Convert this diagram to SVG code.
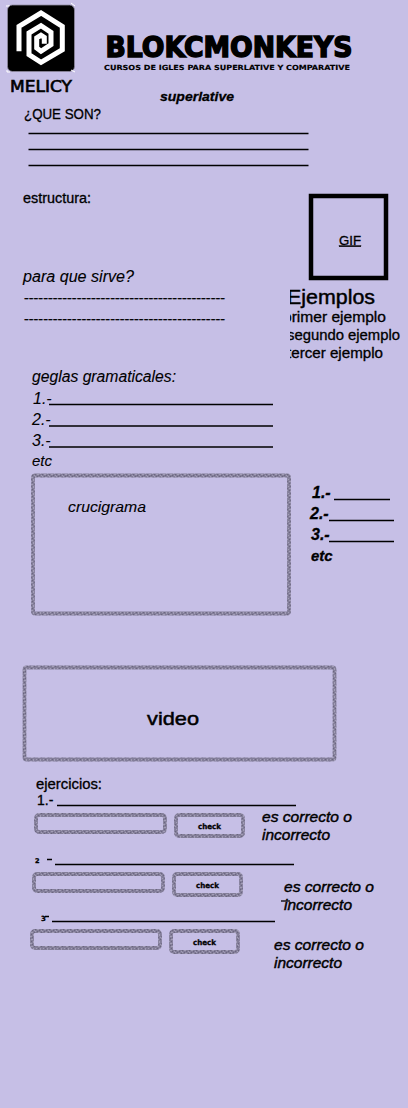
<svg xmlns="http://www.w3.org/2000/svg" width="408" height="1108" viewBox="0 0 408 1108">
<style>
text{font-family:"Liberation Sans",Arial,sans-serif;fill:#000;stroke:#000;stroke-width:.3}
.i{font-style:italic}
.b{font-weight:bold}
.w{font-family:"DejaVu Sans",sans-serif;font-weight:bold}
.l{stroke:#000;stroke-width:1.3;fill:none}
.g{fill:none;stroke:url(#n);stroke-width:3.8}
.f16{font-size:16px}.f15{font-size:15px}.f14{font-size:14px}
</style>
<defs>
<clipPath id="c"><rect x="290" y="280" width="118" height="90"/></clipPath>
<pattern id="n" width="7" height="7" patternUnits="userSpaceOnUse">
<rect width="7" height="7" fill="#837e99"/>
<path d="M0 0h1v1H0zM3 1h2v1H3zM1 3h1v1H1zM5 3h1v2H5zM2 5h2v1H2zM6 6h1v1H6z" fill="#a29db6"/>
<path d="M2 0h1v1H2zM6 1h1v1H6zM3 3h1v1H3zM0 5h1v1H0zM4 6h1v1H4z" fill="#6b6680"/>
</pattern>
</defs>
<rect width="408" height="1108" fill="#c6bfe6"/>
<g id="logo">
<rect x="7.500" y="5" width="67" height="66.500" rx="5" fill="#000" stroke="#8f8a9f" stroke-width=".8"/>
<path d="M19 51.300V26.300L41 13 62.300 26.300V49.700L41 62.300 29 54.700V33L41 25.700 51 32.300V44.700L41 51.300 36.700 48V38L41 35.300 44.300 37.300V43.700" fill="none" stroke="#fff" stroke-width="5"/>
<path d="M6 6h3v-1M71 3l4 3M7 70v2h3M71 70l4 2" stroke="#fff" fill="none"/>
<text x="10" y="92" font-size="15" style="font-family:'DejaVu Sans',sans-serif;stroke-width:.6" textLength="62" lengthAdjust="spacingAndGlyphs">MELICY</text>
</g>
<g id="title">
<text x="105.500" y="56.500" class="w" font-size="27.500" style="stroke-width:1.5" textLength="247" lengthAdjust="spacingAndGlyphs">BLOKCMONKEYS</text>
<text x="104" y="70" class="w" font-size="7" style="stroke-width:.15" textLength="246" lengthAdjust="spacingAndGlyphs">CURSOS DE IGLES PARA SUPERLATIVE Y COMPARATIVE</text>
<text x="160" y="101" class="i b" font-size="13.500" textLength="74" lengthAdjust="spacingAndGlyphs">superlative</text>
</g>
<g id="que-son">
<text x="24" y="119" class="f14" textLength="77" lengthAdjust="spacingAndGlyphs">¿QUE SON?</text>
<path class="l" d="M28.500 133.500H308.500M28.500 149.500H308.500M28.500 165.500H308.500"/>
</g>
<g id="estructura"><text x="23" y="203" class="f14" textLength="68" lengthAdjust="spacingAndGlyphs">estructura:</text></g>
<g id="para-que">
<text x="23" y="282" class="i f16" style="stroke-width:.1" textLength="111" lengthAdjust="spacingAndGlyphs">para que sirve?</text>
<text x="24" y="302" font-size="13" textLength="201" lengthAdjust="spacingAndGlyphs">------------------------------------------</text>
<text x="24" y="323" font-size="13" textLength="201" lengthAdjust="spacingAndGlyphs">------------------------------------------</text>
</g>
<g id="gif">
<rect x="311" y="196" width="75" height="82" fill="none" stroke="#000" stroke-width="4.500"/>
<text x="339" y="244.500" font-size="13" text-decoration="underline" textLength="22" lengthAdjust="spacingAndGlyphs">GIF</text>
</g>
<g id="ejemplos" clip-path="url(#c)">
<text x="287" y="304" font-size="20" style="stroke-width:.45" textLength="88" lengthAdjust="spacingAndGlyphs">Ejemplos</text>
<text x="283" y="322" class="f14" textLength="103" lengthAdjust="spacingAndGlyphs">primer ejemplo</text>
<text x="287" y="340" class="f14" textLength="113" lengthAdjust="spacingAndGlyphs">segundo ejemplo</text>
<text x="287" y="358" class="f14" textLength="96" lengthAdjust="spacingAndGlyphs">tercer ejemplo</text>
</g>
<g id="reglas">
<text x="32" y="382" class="i f16" style="stroke-width:.1" textLength="144" lengthAdjust="spacingAndGlyphs">geglas gramaticales:</text>
<text x="33" y="404" class="i f16" style="stroke-width:.1">1.-</text><text x="32" y="425" class="i f16" style="stroke-width:.1">2.-</text><text x="32" y="446" class="i f16" style="stroke-width:.1">3.-</text>
<text x="32" y="466" class="i f15" style="stroke-width:.1">etc</text>
<path class="l" d="M49 404.500H273M49 426H273M49 447H273"/>
</g>
<g id="crucigrama">
<rect x="33" y="475.500" width="256" height="138" rx="2" class="g"/>
<text x="68" y="512" class="i f15" style="stroke-width:.1" textLength="78" lengthAdjust="spacingAndGlyphs">crucigrama</text>
</g>
<g id="respuestas">
<text x="312" y="498" class="i b f16">1.-</text><text x="310" y="519" class="i b f16">2.-</text><text x="311" y="540" class="i b f16">3.-</text>
<text x="311" y="561" class="i b f15">etc</text>
<path class="l" d="M334 499.500H390M329 520.500H394M329 541.500H394"/>
</g>
<g id="video">
<rect x="24.500" y="667.500" width="310" height="92" rx="2" class="g"/>
<text x="147" y="725" font-size="19" style="stroke-width:.5" textLength="52" lengthAdjust="spacingAndGlyphs">video</text>
</g>
<g id="ejercicios">
<text x="36" y="789" class="f14" textLength="66" lengthAdjust="spacingAndGlyphs">ejercicios:</text>
</g>
<g id="ej1">
<text x="37" y="805" class="f14">1.-</text>
<path class="l" d="M57 805.500H296"/>
<rect x="36" y="815" width="129" height="17" rx="3" class="g"/>
<rect x="176" y="815" width="67" height="21" rx="3" class="g"/>
<text x="198" y="829" class="w" font-size="7.500" textLength="23" lengthAdjust="spacingAndGlyphs">check</text>
<text x="262" y="822" class="i f14" style="stroke-width:.4" textLength="90" lengthAdjust="spacingAndGlyphs">es correcto o</text>
<text x="262" y="840" class="i f14" style="stroke-width:.4" textLength="68" lengthAdjust="spacingAndGlyphs">incorrecto</text>
</g>
<g id="ej2">
<text x="35" y="863" class="w" font-size="6.500">2</text>
<path class="l" d="M47 859.500H52M55 864.500H294"/>
<rect x="34" y="874" width="129" height="17" rx="3" class="g"/>
<rect x="174" y="874" width="67" height="21" rx="3" class="g"/>
<text x="196" y="888" class="w" font-size="7.500" textLength="23" lengthAdjust="spacingAndGlyphs">check</text>
<text x="284" y="892" class="i f14" style="stroke-width:.4" textLength="90" lengthAdjust="spacingAndGlyphs">es correcto o</text>
<text x="284" y="910" class="i f14" style="stroke-width:.4" textLength="68" lengthAdjust="spacingAndGlyphs">incorrecto</text>
<path class="l" d="M281 901H290"/>
</g>
<g id="ej3">
<text x="41" y="921" class="w" font-size="7">3</text>
<path class="l" d="M45 916.500H49M52 921.500H275"/>
<rect x="32" y="931" width="128" height="17" rx="3" class="g"/>
<rect x="171" y="931" width="67" height="21" rx="3" class="g"/>
<text x="193" y="945" class="w" font-size="7.500" textLength="23" lengthAdjust="spacingAndGlyphs">check</text>
<text x="274" y="950" class="i f14" style="stroke-width:.4" textLength="90" lengthAdjust="spacingAndGlyphs">es correcto o</text>
<text x="274" y="968" class="i f14" style="stroke-width:.4" textLength="68" lengthAdjust="spacingAndGlyphs">incorrecto</text>
</g>
</svg>
